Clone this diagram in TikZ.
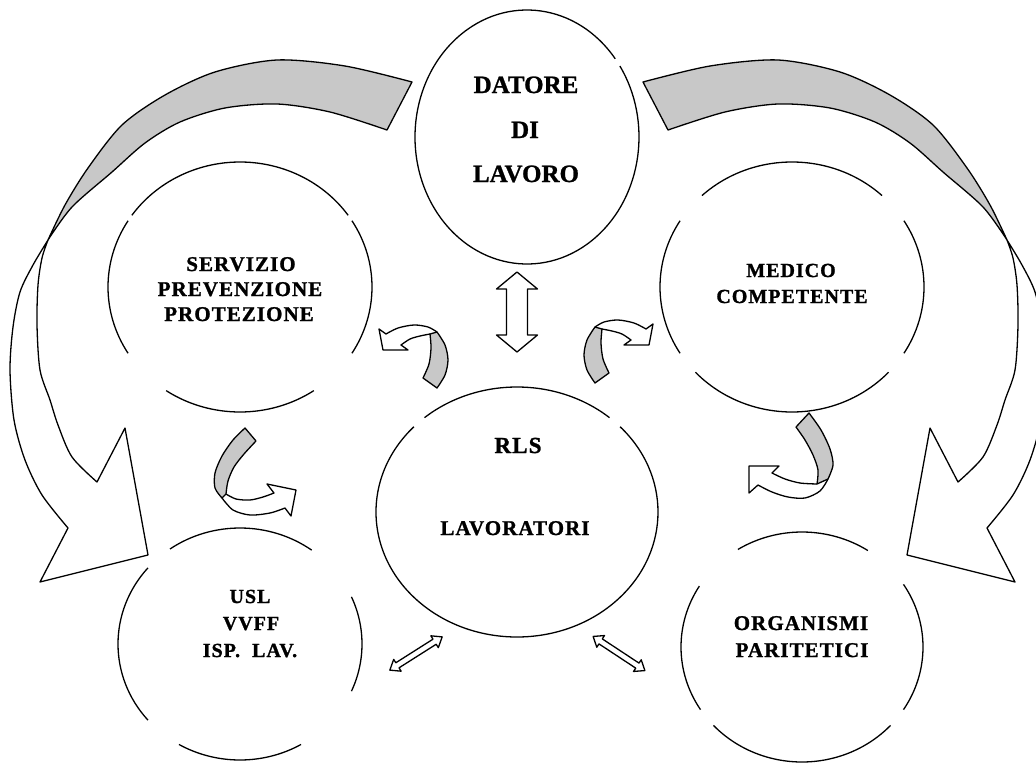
\documentclass[tikz,border=0pt]{standalone}
\usepackage{fontspec}
\setmainfont{Liberation Serif}[FakeBold=1]
\newfontfamily\lblfont{Liberation Serif}[LetterSpace=5, FakeBold=1.2]
\definecolor{ribbongray}{RGB}{200,200,200}
\tikzset{
  ln/.style={line width=1.3pt, black, line join=round},
  ribbon/.style={ln, fill=ribbongray},
  hollow/.style={ln, fill=white},
  lbl/.style={font=\lblfont\bfseries\fontsize{#1}{#1}\selectfont, anchor=base, inner sep=0pt},
  dlbl/.style={font=\bfseries\fontsize{#1}{#1}\selectfont, anchor=base, inner sep=0pt},
}
% arc of an ellipse: cx, cy, rx, ry, from visual angle, to visual angle
\newcommand{\ringarc}[6]{\draw[ln] ([shift={(#1,#2)}]-#5:#3 and #4) arc[start angle=-#5, end angle=-#6, x radius=#3, y radius=#4];}
% straight double arrow: cx, cy, visual angle
\newcommand{\dblarrow}[3]{\begin{scope}[shift={(#1,#2)}, rotate=#3]
\draw[hollow] (31,0) -- (22,7) -- (22,3) -- (-22,3) -- (-22,7) -- (-31,0) -- (-22,-7) -- (-22,-3) -- (22,-3) -- (22,-7) -- cycle;
\end{scope}}
% big curved ribbon arrow (left one)
\newcommand{\bigarrow}{%
\draw[ribbon] plot[smooth] coordinates {(412,82) (345,66) (277,60) (215,72) (165,95) (122,125) (88,168) (65,205) (48,240)}
  -- plot[smooth] coordinates {(48,240) (72,207) (112,172) (145,143) (180,122) (225,108) (277,104) (330,112) (387,130)} -- cycle;
\draw[ln] plot[smooth] coordinates {(48,240) (33,265) (20,292) (13,327) (10,370) (14,420) (25,460) (42,495) (68,528)}
  -- (40,582) -- (148,555) -- (125,428)
  -- plot[smooth] coordinates {(97,482) (72,457) (58,425) (50,400) (40,370) (37,325) (38,285) (42,258) (48,240)};
}
% small curved arrow (RLS -> Servizio)
\newcommand{\smallarrowA}{%
\draw[ribbon] plot[smooth] coordinates {(423,378) (429,364) (431,348) (430,334)}
  -- plot[smooth] coordinates {(437,332) (445,345) (448,360) (445,375) (437,388)} -- cycle;
\draw[ln] plot[smooth] coordinates {(437,332) (428,327) (414,325) (398,328) (386,334)}
  -- (379,329) -- (383,350) -- (408,350)
  -- plot[smooth] coordinates {(401,345) (410,339) (420,336) (430,334)};
}
\begin{document}
\begin{tikzpicture}[x=1pt,y=-1pt]
\useasboundingbox (0,0) rectangle (1036,763);
\clip (0,0) rectangle (1036,763);
\fill[white] (0,0) rectangle (1036,763);

% Datore di lavoro
\ringarc{527}{137}{112}{127}{38}{394}
% Servizio prevenzione protezione
\ringarc{240}{287}{132}{125}{35}{145}
\ringarc{240}{287}{132}{125}{148}{212}
\ringarc{240}{287}{132}{125}{236}{304}
\ringarc{240}{287}{132}{125}{328}{392}
% Medico competente
\ringarc{792}{287}{132}{125}{47}{133}
\ringarc{792}{287}{132}{125}{148}{212}
\ringarc{792}{287}{132}{125}{223}{317}
\ringarc{792}{287}{132}{125}{328}{392}
% RLS
\ringarc{517}{512}{141}{125}{49}{131}
\ringarc{517}{512}{141}{125}{137}{403}
% USL
\ringarc{240}{644}{122}{116}{54}{125}
\ringarc{240}{644}{122}{116}{139}{221}
\ringarc{240}{644}{122}{116}{240}{300}
\ringarc{240}{644}{122}{116}{336}{384}
% Organismi paritetici
\ringarc{802}{647}{121}{115}{57}{122}
\ringarc{802}{647}{121}{115}{148}{213}
\ringarc{802}{647}{121}{115}{223}{317}
\ringarc{802}{647}{121}{115}{327}{393}

% big arrows
\bigarrow
\begin{scope}[shift={(1055,0)}, xscale=-1]\bigarrow\end{scope}

% small curved arrows
\smallarrowA
\begin{scope}[shift={(1032,-5)}, xscale=-1]\smallarrowA\end{scope}
% Servizio -> USL side
\draw[ribbon] plot[smooth] coordinates {(245,428) (233,440) (222,456) (215,473) (215,488) (222,498)}
  -- plot[smooth] coordinates {(226,494) (228,481) (234,467) (244,454) (256,441)} -- cycle;
\draw[ln] plot[smooth] coordinates {(226,494) (236,499) (250,500) (263,497) (274,493)}
  -- (267,484) -- (296,490) -- (291,516)
  -- plot[smooth] coordinates {(285,508) (270,513) (250,515) (233,510) (222,498)};
% Medico -> Organismi side
\draw[ribbon] plot[smooth] coordinates {(796,427) (805,440) (813,455) (818,470) (817,484)}
  -- plot[smooth] coordinates {(828,479) (833,465) (830,449) (821,430) (809,413)} -- cycle;
\draw[ln] plot[smooth] coordinates {(817,484) (800,483) (785,479) (772,473)}
  -- (779,466) -- (749,466) -- (749,493)
  -- plot[smooth] coordinates {(758,485) (772,492) (788,497) (805,498) (820,491) (828,479)};

% straight double arrows
\draw[hollow] (517,272) -- (537.5,289) -- (527.5,289) -- (527.5,335) -- (537.5,335) -- (517,352)
  -- (496.5,335) -- (506.5,335) -- (506.5,289) -- (496.5,289) -- cycle;
\dblarrow{416}{653.5}{32.4}
\dblarrow{619}{653.5}{-33.4}

% texts
\node[dlbl=25] (datore) at (526,93) {DATORE};
\node[dlbl=25] (di) at (525,138) {DI};
\node[dlbl=25] (lavoro) at (526,182) {LAVORO};
\node[lbl=21] (spp1) at (241,271) {SERVIZIO};
\node[lbl=21] (spp2) at (240,296) {PREVENZIONE};
\node[lbl=21] (spp3) at (239,321) {PROTEZIONE};
\node[lbl=20] (mc1) at (791,277) {MEDICO};
\node[lbl=20] (mc2) at (792,303) {COMPETENTE};
\node[lbl=23] (rls) at (518,453) {RLS};
\node[lbl=21] (lav) at (515,535) {LAVORATORI};
\node[lbl=20] (usl1) at (250,603) {USL};
\node[lbl=20] (usl2) at (251,630) {VVFF};
\node[lbl=20] (usl3) at (250,657) {ISP.\ \ LAV.};
\node[lbl=21] (op1) at (801,630) {ORGANISMI};
\node[lbl=21] (op2) at (802,657) {PARITETICI};
\end{tikzpicture}
\end{document}
